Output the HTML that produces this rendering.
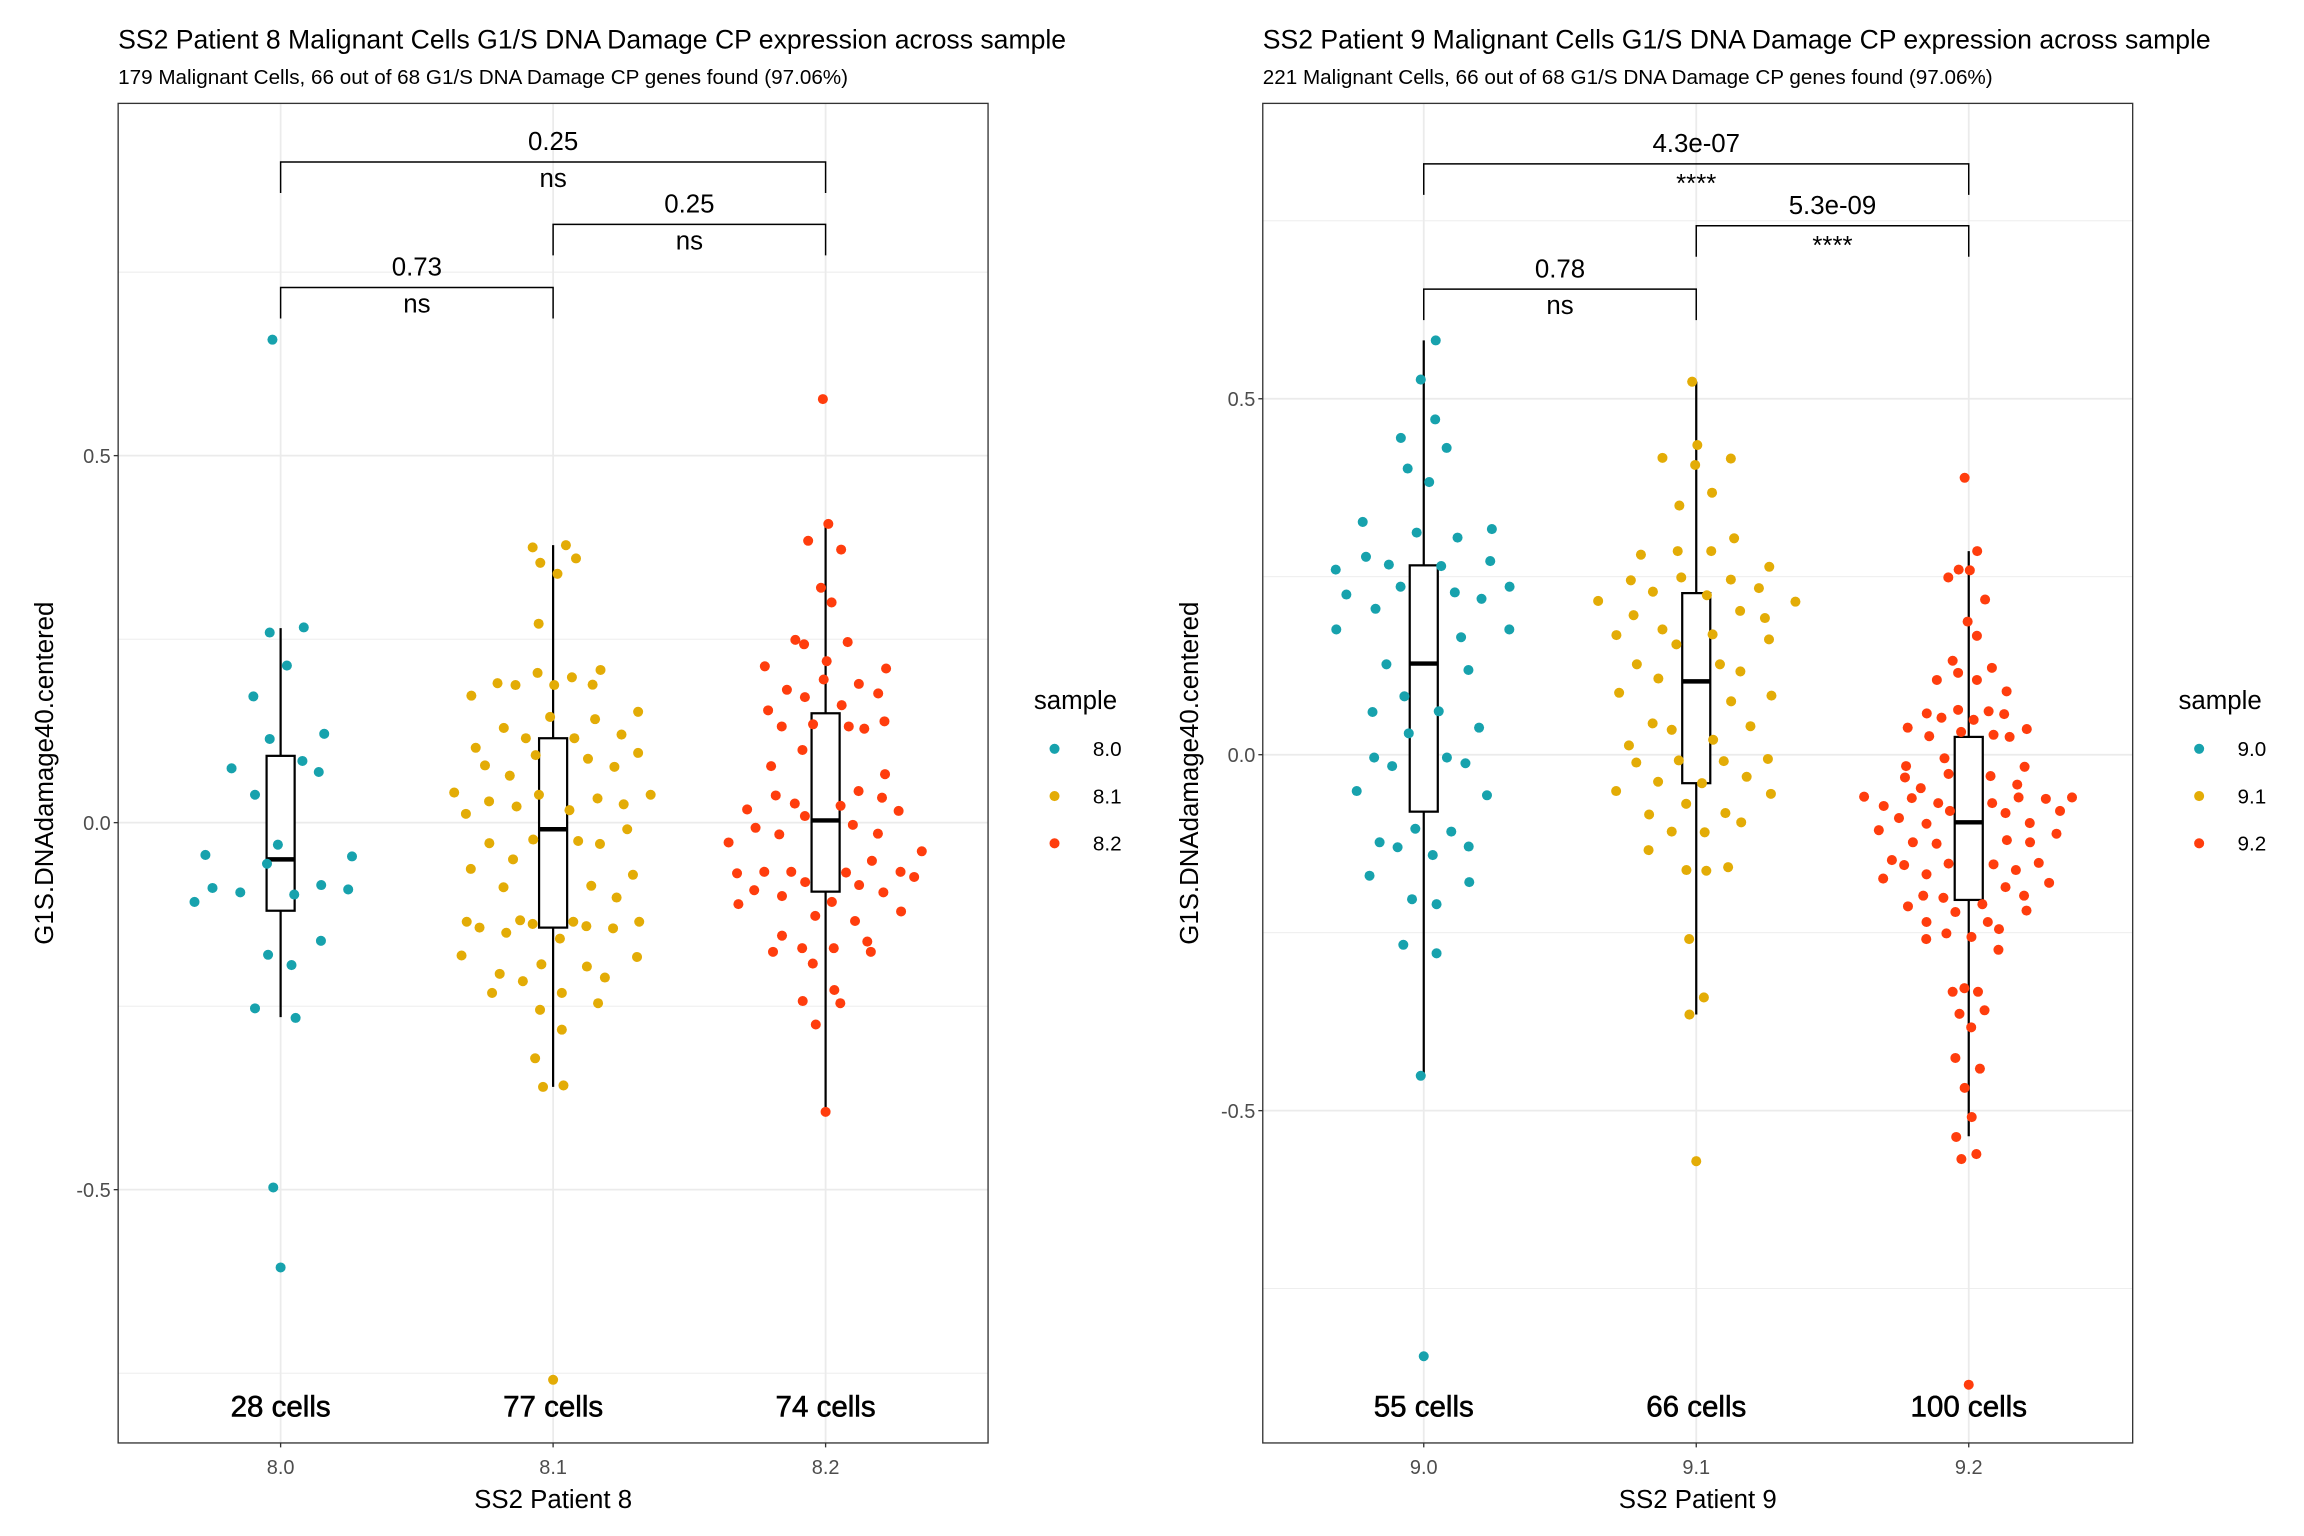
<!DOCTYPE html>
<html><head><meta charset="utf-8"><style>
html,body{margin:0;padding:0;background:#fff;}
svg{display:block;font-family:"Liberation Sans",Arial,sans-serif;}
</style></head><body>
<svg id="chart" width="2304" height="1536" viewBox="0 0 1560 1040" xmlns="http://www.w3.org/2000/svg"></svg>
<script>
// ---------- data ----------
const categoriesP8 = ["8.0","8.1","8.2"];
const categoriesP9 = ["9.0","9.1","9.2"];
const cellCountsP8 = ["28 cells","77 cells","74 cells"];
const cellCountsP9 = ["55 cells","66 cells","100 cells"];
const yTicksP8 = [0.5, 0.0, -0.5];
const yTickLabelsP8 = ["0.5","0.0","-0.5"];
const yTicksP9 = [0.5, 0.0, -0.5];
const yTickLabelsP9 = ["0.5","0.0","-0.5"];
const minorTicks = [0.75, 0.25, -0.25, -0.75];

const vals80 = [0.658,0.259,0.266,0.214,0.172,0.114,0.121,0.074,0.084,0.069,0.038,-0.044,-0.046,-0.056,-0.089,-0.095,-0.108,-0.098,-0.085,-0.091,-0.161,-0.180,-0.194,-0.253,-0.266,-0.497,-0.606,-0.03];
const jit80 = [-0.03,-0.04,0.085,0.023,-0.10,-0.04,0.16,-0.18,0.08,0.14,-0.094,-0.276,0.262,-0.05,-0.25,-0.148,-0.316,0.05,0.149,0.248,0.148,-0.046,0.04,-0.094,0.055,-0.027,0,-0.01];
const vals81 = [0.375,0.378,0.354,0.360,0.339,0.271,0.173,0.190,0.1875,0.204,0.1875,0.198,0.188,0.208,0.144,0.129,0.141,0.151,0.102,0.115,0.115,0.120,0.092,0.078,0.087,0.095,0.064,0.076,0.041,0.012,0.029,0.022,0.038,0.017,0.033,0.025,0.038,-0.028,-0.023,-0.025,-0.029,-0.009,-0.050,-0.063,-0.088,-0.086,-0.102,-0.071,-0.135,-0.143,-0.150,-0.133,-0.138,-0.135,-0.141,-0.144,-0.135,-0.158,-0.181,-0.183,-0.193,-0.196,-0.206,-0.216,-0.211,-0.232,-0.232,-0.246,-0.255,-0.282,-0.321,-0.360,-0.358,-0.759];
const jit81 = [-0.075,0.047,-0.047,0.084,0.016,-0.053,-0.30,-0.204,-0.138,-0.057,0.004,0.069,0.145,0.174,-0.011,-0.181,0.154,0.312,-0.284,-0.10,0.078,0.251,-0.064,-0.25,0.128,0.312,-0.159,0.225,-0.363,-0.32,-0.235,-0.134,-0.052,0.06,0.163,0.259,0.358,-0.234,-0.073,0.092,0.172,0.272,-0.147,-0.302,-0.182,0.140,0.233,0.293,-0.317,-0.27,-0.172,-0.121,-0.075,0.074,0.122,0.22,0.316,0.025,-0.336,0.308,-0.043,0.124,-0.196,-0.111,0.19,-0.224,0.032,0.165,-0.048,0.032,-0.066,-0.037,0.038,0];
const vals82 = [0.577,0.407,0.384,0.372,0.320,0.300,0.249,0.243,0.246,0.213,0.220,0.210,0.195,0.181,0.171,0.189,0.176,0.153,0.160,0.131,0.134,0.131,0.128,0.138,0.099,0.077,0.066,0.037,0.026,0.043,0.034,0.018,0.009,0.023,0.016,-0.007,-0.016,-0.003,-0.015,-0.027,-0.039,-0.052,-0.069,-0.067,-0.067,-0.081,-0.068,-0.067,-0.074,-0.092,-0.100,-0.085,-0.095,-0.111,-0.108,-0.127,-0.121,-0.134,-0.154,-0.176,-0.171,-0.171,-0.162,-0.176,-0.192,-0.228,-0.243,-0.246,-0.275,-0.394];
const jit82 = [-0.01,0.01,-0.064,0.057,-0.017,0.022,-0.111,-0.079,0.081,-0.223,0.004,0.222,-0.007,-0.142,-0.076,0.122,0.193,-0.211,0.059,-0.161,-0.046,0.085,0.142,0.216,-0.085,-0.2,0.218,-0.183,-0.113,0.121,0.207,-0.288,-0.076,0.055,0.268,-0.257,-0.17,0.1,0.192,-0.356,0.353,0.17,-0.325,-0.225,-0.126,-0.075,0.075,0.275,0.325,-0.262,-0.16,0.123,0.212,-0.32,0.023,-0.038,0.277,0.108,-0.16,-0.193,-0.086,0.03,0.153,0.166,-0.047,0.032,-0.084,0.054,-0.036,0];
const vals90 = [0.582,0.527,0.471,0.445,0.431,0.402,0.383,0.327,0.312,0.305,0.317,0.278,0.267,0.260,0.265,0.272,0.225,0.236,0.228,0.219,0.236,0.205,0.176,0.176,0.165,0.127,0.119,0.082,0.060,0.061,0.038,0.030,-0.004,-0.016,-0.004,-0.012,-0.051,-0.057,-0.104,-0.108,-0.123,-0.130,-0.129,-0.141,-0.170,-0.179,-0.203,-0.210,-0.267,-0.279,-0.451,-0.845];
const jit90 = [0.044,-0.011,0.042,-0.084,0.084,-0.059,0.02,-0.224,-0.026,0.124,0.25,-0.212,-0.128,-0.323,0.064,0.244,-0.284,-0.085,0.114,0.212,0.315,-0.177,-0.321,0.314,0.137,-0.137,0.164,-0.071,-0.188,0.055,0.203,-0.055,-0.182,-0.116,0.085,0.153,-0.246,0.232,-0.031,0.101,-0.162,-0.096,0.165,0.033,-0.199,0.167,-0.043,0.047,-0.075,0.047,-0.011,0];
const vals91 = [0.524,0.435,0.417,0.407,0.416,0.368,0.350,0.304,0.281,0.286,0.286,0.245,0.249,0.246,0.264,0.229,0.234,0.224,0.216,0.215,0.196,0.202,0.192,0.168,0.176,0.169,0.162,0.155,0.127,0.127,0.107,0.117,0.087,0.075,0.083,0.044,0.035,0.040,0.013,0.021,-0.011,-0.008,-0.009,-0.006,-0.051,-0.038,-0.040,-0.031,-0.055,-0.069,-0.084,-0.082,-0.095,-0.108,-0.109,-0.134,-0.162,-0.163,-0.158,-0.259,-0.341,-0.365,-0.571];
const jit91 = [-0.015,0.004,-0.124,-0.004,0.127,0.058,-0.062,0.139,-0.203,-0.068,0.055,-0.24,-0.055,0.127,0.268,-0.159,0.23,0.039,-0.36,0.364,-0.23,0.161,0.252,-0.293,-0.124,0.06,0.267,-0.073,-0.218,0.087,-0.139,0.162,-0.283,0.128,0.276,-0.16,-0.09,0.199,-0.247,0.062,-0.22,-0.064,0.101,0.263,-0.294,-0.14,0.021,0.185,0.274,-0.037,-0.173,0.107,0.165,-0.09,0.031,-0.175,-0.036,0.037,0.117,-0.026,0.028,-0.025,0];
const vals92 = [0.389,0.286,0.260,0.259,0.249,0.218,0.187,0.167,0.132,0.122,0.115,0.105,0.105,0.089,0.058,0.052,0.063,0.049,0.061,0.057,0.038,0.026,0.032,0.028,0.025,0.036,-0.005,-0.016,-0.017,-0.027,-0.030,-0.032,-0.047,-0.042,-0.059,-0.061,-0.068,-0.068,-0.060,-0.062,-0.060,-0.072,-0.089,-0.079,-0.082,-0.079,-0.106,-0.097,-0.096,-0.111,-0.123,-0.125,-0.120,-0.123,-0.148,-0.155,-0.153,-0.154,-0.152,-0.174,-0.168,-0.162,-0.180,-0.186,-0.198,-0.201,-0.198,-0.213,-0.210,-0.221,-0.219,-0.235,-0.235,-0.245,-0.259,-0.251,-0.256,-0.274,-0.333,-0.328,-0.333,-0.364,-0.359,-0.383,-0.426,-0.441,-0.468,-0.509,-0.537,-0.568,-0.561,-0.885];
const jit92 = [-0.015,0.031,-0.037,0.004,-0.075,0.06,-0.004,0.03,-0.059,0.085,-0.039,-0.117,0.03,0.139,-0.154,-0.1,-0.039,0.018,0.073,0.13,-0.224,-0.145,-0.028,0.091,0.15,0.213,-0.089,-0.23,0.205,-0.074,0.08,-0.234,-0.176,0.178,-0.384,-0.209,-0.112,0.086,0.183,0.283,0.379,-0.312,-0.256,-0.069,0.135,0.335,-0.33,-0.155,0.224,0.322,-0.205,-0.118,0.14,0.225,-0.282,-0.237,-0.074,0.091,0.257,-0.314,-0.155,0.173,0.295,0.135,-0.167,-0.093,0.203,-0.223,0.05,-0.049,0.212,-0.155,0.07,0.111,-0.156,-0.082,0.01,0.109,-0.059,-0.016,0.034,-0.034,0.058,0.009,-0.049,0.041,-0.015,0.011,-0.046,-0.027,0.028,0];

// box stats [lowerWhisker, q1, median, q3, upperWhisker]
const boxP8 = [[-0.265,-0.120,-0.050,0.091,0.265],[-0.360,-0.143,-0.009,0.115,0.378],[-0.394,-0.094,0.003,0.149,0.407]];
const boxP9 = [[-0.451,-0.080,0.128,0.266,0.582],[-0.365,-0.040,0.103,0.227,0.524],[-0.536,-0.204,-0.095,0.025,0.286]];

// comparisons: [fromIndex, toIndex, bracketValue, pLabel, sigLabel]
const compP8 = [[0,2,0.900,"0.25","ns"],[1,2,0.815,"0.25","ns"],[0,1,0.729,"0.73","ns"]];
const compP9 = [[0,2,0.830,"4.3e-07","****"],[1,2,0.743,"5.3e-09","****"],[0,1,0.654,"0.78","ns"]];

const colors = ["#17A2AD","#E3AC06","#FF3D0D"];

// ---------- drawing ----------
const NS = "http://www.w3.org/2000/svg";
const svg = document.getElementById("chart");
function mk(tag, attrs, parent, text){
  const e = document.createElementNS(NS, tag);
  for (const k in attrs) e.setAttribute(k, attrs[k]);
  if (text !== undefined) e.textContent = text;
  (parent || svg).appendChild(e);
  return e;
}

function drawPanel(cfg){
  const g = mk("g", {});
  
  
  const L = cfg.left, R = cfg.left + 589, T = 70, B = 977;
  const y = v => cfg.y0 - v * cfg.ppu;
  const x = (i, j) => cfg.cx0 + (i + (j || 0)) * 184.5;

  const t = mk("text", {x: L, y: 33, "font-size": 18, fill: "#000"}, g, cfg.title);
  
  
  const st = mk("text", {x: L, y: 57, "font-size": 14, fill: "#000"}, g, cfg.subtitle);
  
  

  minorTicks.forEach(v => {
    const l = mk("line", {x1: L, x2: R, y1: y(v), y2: y(v), stroke: "#EBEBEB", "stroke-width": 0.6}, g);
    
    
  });
  cfg.yTicks.forEach(v => {
    const l = mk("line", {x1: L, x2: R, y1: y(v), y2: y(v), stroke: "#EBEBEB", "stroke-width": 1.2}, g);
    
    
  });
  cfg.cats.forEach((c, i) => {
    const l = mk("line", {x1: x(i), x2: x(i), y1: T, y2: B, stroke: "#EBEBEB", "stroke-width": 1.2}, g);
    
    
  });

  cfg.comps.forEach(c => {
    const by = y(c[2]);
    const x1 = x(c[0]), x2 = x(c[1]);
    const p = mk("path", {d: `M${x1},${by+21}V${by}H${x2}V${by+21}`, fill: "none", stroke: "#000", "stroke-width": 1}, g);
    
    
    const pl = mk("text", {x: (x1+x2)/2, y: by - 8, "font-size": 17.5, "text-anchor": "middle", fill: "#000"}, g, c[3]);
    
    
    const sl = mk("text", {x: (x1+x2)/2, y: c[4] === "ns" ? by + 17 : by + 19, "font-size": 17.5, "text-anchor": "middle", fill: "#000"}, g, c[4]);
    
    
  });

  cfg.boxes.forEach((b, i) => {
    const cx = x(i), hw = 9.5;
    const w = mk("line", {x1: cx, x2: cx, y1: y(b[0]), y2: y(b[4]), stroke: "#000", "stroke-width": 1.5}, g);
    
    
    const r = mk("rect", {x: cx-hw, y: y(b[3]), width: 2*hw, height: y(b[1]) - y(b[3]), fill: "#fff", stroke: "#000", "stroke-width": 1.5}, g);
    
    
    const m = mk("line", {x1: cx-hw, x2: cx+hw, y1: y(b[2]), y2: y(b[2]), stroke: "#000", "stroke-width": 3}, g);
    
    
  });

  cfg.series.forEach((s, i) => {
    const vals = s[0], jit = s[1];
    vals.forEach((v, k) => {
      const c = mk("circle", {cx: x(i, jit[k] || 0), cy: y(v), r: 3.4, fill: colors[i]}, g);
      
      
    });
  });

  cfg.counts.forEach((c, i) => {
    const tx = mk("text", {x: x(i), y: 959, "font-size": 20, "text-anchor": "middle", fill: "#000", stroke: "#000", "stroke-width": 0.4}, g, c);
    
    
  });

  const bd = mk("rect", {x: L, y: T, width: R-L, height: B-T, fill: "none", stroke: "#333", "stroke-width": 0.9}, g);
  
  

  cfg.yTicks.forEach((v, k) => {
    const tk = mk("line", {x1: L-3, x2: L, y1: y(v), y2: y(v), stroke: "#333", "stroke-width": 0.9}, g);
    
    
    const lb = mk("text", {x: L-5, y: y(v)+5, "font-size": 13.5, "text-anchor": "end", fill: "#4D4D4D"}, g, cfg.yLabels[k]);
    
    
  });
  cfg.cats.forEach((c, i) => {
    const tk = mk("line", {x1: x(i), x2: x(i), y1: B, y2: B+3, stroke: "#333", "stroke-width": 0.9}, g);
    
    
    const lb = mk("text", {x: x(i), y: B+21, "font-size": 13.5, "text-anchor": "middle", fill: "#4D4D4D"}, g, c);
    
    
  });
  const xt = mk("text", {x: (L+R)/2, y: 1021, "font-size": 17.5, "text-anchor": "middle", fill: "#000"}, g, cfg.xTitle);
  
  
  const ytx = L - 44, yty = (T+B)/2;
  const yt = mk("text", {x: ytx, y: yty, "font-size": 17.5, "text-anchor": "middle", fill: "#000", transform: `rotate(-90 ${ytx} ${yty})`}, g, "G1S.DNAdamage40.centered");
  
  

  const lg = mk("g", {}, g);
  
  
  const lt = mk("text", {x: R+31, y: 480, "font-size": 17.5, fill: "#000"}, lg, "sample");
  
  
  cfg.cats.forEach((c, i) => {
    const e = mk("g", {}, lg);
    
    
    mk("circle", {cx: R+45, cy: 507 + 32*i, r: 3.4, fill: colors[i]}, e);
    mk("text", {x: R+71, y: 512 + 32*i, "font-size": 14, fill: "#000"}, e, c);
  });
}

drawPanel({id: "patient8", left: 80, y0: 557, ppu: 497, cx0: 190,
  title: "SS2 Patient 8 Malignant Cells G1/S DNA Damage CP expression across sample",
  subtitle: "179 Malignant Cells, 66 out of 68 G1/S DNA Damage CP genes found (97.06%)",
  cats: categoriesP8, counts: cellCountsP8, yTicks: yTicksP8, yLabels: yTickLabelsP8,
  boxes: boxP8, comps: compP8, xTitle: "SS2 Patient 8",
  series: [[vals80, jit80],[vals81, jit81],[vals82, jit82]]});
drawPanel({id: "patient9", left: 855, y0: 511, ppu: 482, cx0: 964,
  title: "SS2 Patient 9 Malignant Cells G1/S DNA Damage CP expression across sample",
  subtitle: "221 Malignant Cells, 66 out of 68 G1/S DNA Damage CP genes found (97.06%)",
  cats: categoriesP9, counts: cellCountsP9, yTicks: yTicksP9, yLabels: yTickLabelsP9,
  boxes: boxP9, comps: compP9, xTitle: "SS2 Patient 9",
  series: [[vals90, jit90],[vals91, jit91],[vals92, jit92]]});
</script>
</body></html>
